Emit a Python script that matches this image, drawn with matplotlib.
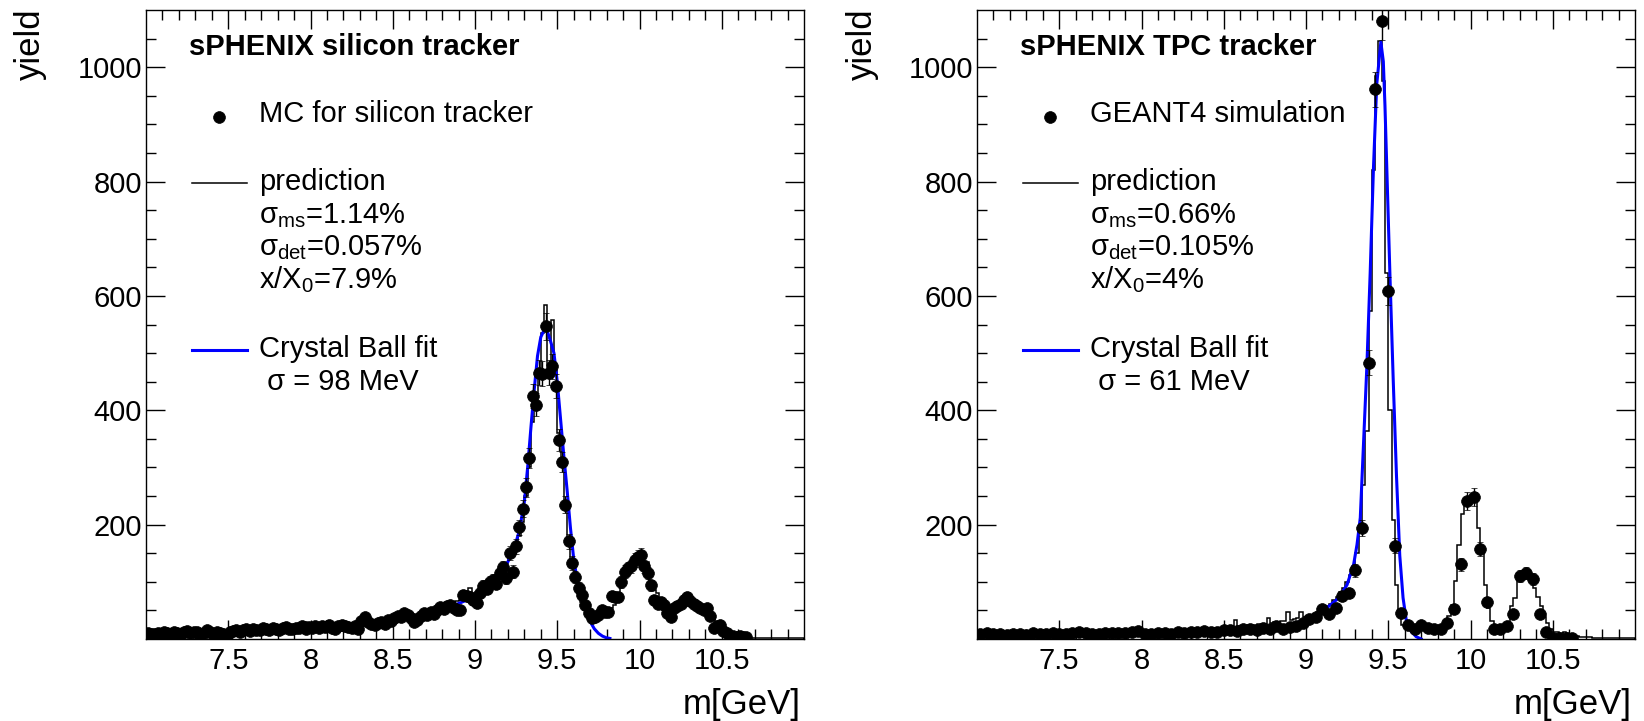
import numpy as np
import matplotlib.pyplot as plt
from matplotlib.lines import Line2D

plt.rcParams['font.family'] = ['Liberation Sans', 'DejaVu Sans']
plt.rcParams['mathtext.fontset'] = 'custom'
plt.rcParams['mathtext.rm'] = 'Liberation Sans'
plt.rcParams['mathtext.it'] = 'Liberation Sans:italic'

W, H = 1644, 721

# silicon tracker: MC points in 0.02 GeV bins, first centre 7.01
si_m0, si_dm = 7.01, 0.02
si_data = [10, 9, 8, 10, 9, 12, 11, 9, 12, 11, 8, 12, 14, 10, 13, 12, 9, 11, 15, 12, 9, 13, 11, 8, 6,
           12, 14, 16, 13, 15, 17, 14, 18, 16, 15, 19, 17, 16, 20, 18, 16, 19, 21, 18, 17, 20, 19, 22, 18, 21,
           20, 22, 19, 23, 21, 24, 20, 18, 22, 25, 23, 21, 19, 22, 18,
           32, 38, 30, 26, 24, 28, 30, 27, 33, 31, 36, 40, 38, 45, 42, 36, 30, 33, 40, 45, 42, 48, 44, 50, 56,
           52, 58, 59, 55, 51,
           51, 77, 75, 74, 68, 63, 80, 93, 88, 100, 103, 97, 115, 126, 106, 150, 118, 162, 195, 228,
           265, 316, 425, 410, 466, 464, 547, 466, 477, 442, 348, 309, 235, 171, 133, 108, 90, 77, 59, 45,
           36, 39, 42, 51, 48, 48, 75, 73, 73, 100, 118, 124, 127, 138, 144, 147, 127, 115, 94, 68,
           62, 65, 59, 45, 39, 54, 58, 62, 68, 73, 66, 62, 58, 54, 50, 54, 40, 19, 22, 25, 14, 10, 6, 5,
           4, 5, 4, 3]
# prediction histogram, 0.02 GeV bins from 7.0 to 11.0
si_pred = [10, 10, 9, 10, 11, 11, 10, 11, 12, 11, 10, 11, 19, 11, 12, 12, 11, 12, 13, 12, 11, 12, 12, 11, 12,
           13, 14, 14, 15, 15, 16, 15, 17, 16, 17, 18, 17, 18, 19, 18, 19, 19, 20, 19, 20, 20, 21, 21, 30, 21,
           21, 22, 22, 23, 22, 32, 23, 22, 23, 24, 23, 24, 23, 24, 25,
           27, 30, 30, 29, 30, 31, 32, 32, 34, 35, 36, 38, 38, 40, 40, 41, 42, 44, 45, 46, 48, 50, 51, 53, 55,
           57, 60, 62, 64, 66,
           68, 72, 75, 90, 78, 82, 86, 90, 95, 100, 106, 112, 118, 125, 133, 142, 152, 165, 180, 205,
           250, 300, 380, 430, 470, 535, 584, 480, 558, 470, 360, 300, 230, 170, 130, 100, 80, 65, 52, 42,
           38, 36, 40, 44, 48, 50, 55, 60, 70, 95, 110, 118, 125, 132, 140, 142, 135, 135, 100, 85,
           80, 70, 60, 50, 48, 55, 62, 64, 66, 68, 70, 66, 60, 55, 52, 50, 48, 40, 30, 22, 16, 12, 8, 6, 4,
           3, 3, 2, 2, 2,
           2, 1, 1, 1, 1, 1, 1, 1, 1, 1, 1, 1, 1, 1, 1]
si_fit_m = [8.55, 8.60, 8.65, 8.70, 8.75, 8.80, 8.85, 8.90, 8.95, 9.00, 9.05, 9.10, 9.15, 9.20, 9.24,
            9.27, 9.30, 9.32, 9.34, 9.36, 9.38, 9.40, 9.42, 9.44, 9.46, 9.48, 9.50, 9.52, 9.54, 9.56,
            9.58, 9.60, 9.62, 9.645, 9.665, 9.685, 9.705, 9.725, 9.75, 9.775, 9.80, 9.82]
si_fit_y = [33, 35, 38, 42, 46, 51, 56, 62, 68, 76, 86, 98, 113, 135, 160,
            190, 240, 300, 370, 436, 495, 528, 540, 538, 520, 500, 450, 385, 320, 260,
            195, 140, 105, 80, 60, 42, 28, 18, 10, 5, 2, 1]

# TPC tracker: GEANT4 points in 0.04 GeV bins, first centre 7.02
tpc_m0, tpc_dm = 7.02, 0.04
tpc_data = [8, 10, 9, 8, 7, 9, 8, 7, 10, 8, 9, 10, 8, 9, 11, 13, 10, 9, 8, 10, 11, 10, 11, 12, 14,
            9, 8, 10, 11, 9, 12, 11, 13, 12, 14, 13, 12, 15, 16, 14, 17, 18, 16, 20, 17, 22, 18, 21, 22, 28,
            35, 39, 52, 43, 54, 76, 80, 120, 194, 483, 961, 1081, 609, 163, 45, 24, 17, 24, 19, 17, 17, 28,
            52, 131, 241,
            249, 157, 65, 17, 17, 23, 43, 111, 115, 105, 43, 13, 2, 2, 2, 2]
tpc_pred = [10, 10, 9, 10, 9, 9, 10, 9, 9, 10, 9, 10, 9, 10, 10, 9, 10, 10, 9, 10, 10, 10, 10, 11, 10,
            10, 11, 10, 11, 11, 11, 11, 12, 11, 12, 11, 12, 12, 12, 12, 13, 12, 13, 13, 13, 13, 14, 13, 14, 14,
            14, 14, 15, 14, 15, 15, 15, 16, 15, 16, 16, 16, 17, 16, 17, 17, 18, 17, 18, 18, 18, 19, 19, 19, 20,
            20, 21, 22, 34, 22, 23, 23, 24, 25, 25, 26, 27, 27, 36, 28, 29, 30, 31, 32, 48, 33, 35, 36, 48, 38,
            40, 42, 44, 47, 50, 53, 57, 62, 68, 74, 82, 90, 100, 112, 128, 150, 200, 270, 363, 573, 820, 985,
            1045, 975, 640,
            400, 208, 94, 45, 25, 20, 18, 17, 18, 20, 22, 20, 18, 17, 18, 20, 22, 28, 40, 60, 102, 164, 219,
            241, 241,
            250, 256, 194, 157, 94, 54, 32, 21, 18, 18, 20, 30, 57, 72, 116, 118, 120, 120, 110, 90, 74, 57,
            39, 28, 17,
            13, 13, 10, 12, 10, 8, 6, 5, 4, 4, 3, 3, 2, 2, 2, 2, 2, 1, 1, 1, 1, 1, 1, 1, 1]
tpc_fit_m = [8.75, 8.80, 8.85, 8.90, 8.95, 9.00, 9.05, 9.10, 9.15, 9.20, 9.25, 9.29, 9.31, 9.33, 9.35,
             9.37, 9.39, 9.41, 9.43, 9.455, 9.47, 9.48, 9.495, 9.51, 9.53, 9.55, 9.57, 9.59, 9.61, 9.64,
             9.67, 9.70]
tpc_fit_y = [18, 20, 22, 25, 29, 34, 40, 48, 60, 72, 95, 131, 165, 212, 344,
             477, 639, 823, 970, 1044, 1010, 933, 786, 639, 455, 286, 146, 72, 32, 13,
             4, 0]

panels = [
    dict(data=si_data, m0=si_m0, dm=si_dm, pred=si_pred, fm=si_fit_m, fy=si_fit_y,
         title='sPHENIX silicon tracker', label='MC for silicon tracker',
         lines=['prediction', r'σ$_{\rm ms}$=1.14%', r'σ$_{\rm det}$=0.057%', r'x/X$_{\rm 0}$=7.9%'],
         sig=' σ = 98 MeV', x0=146, ylab=30),
    dict(data=tpc_data, m0=tpc_m0, dm=tpc_dm, pred=tpc_pred, fm=tpc_fit_m, fy=tpc_fit_y,
         title='sPHENIX TPC tracker', label='GEANT4 simulation',
         lines=['prediction', r'σ$_{\rm ms}$=0.66%', r'σ$_{\rm det}$=0.105%', r'x/X$_{\rm 0}$=4%'],
         sig=' σ = 61 MeV', x0=977, ylab=862),
]

fig = plt.figure(figsize=(W / 100, H / 100), dpi=100)


def fx(px):
    return px / W


def fy(py):
    return 1 - py / H


for p in panels:
    ax = fig.add_axes([fx(p['x0']), fy(639), 658 / W, 629 / H])
    edges = 7.0 + 0.02 * np.arange(len(p['pred']) + 1)
    ax.stairs(p['pred'], edges, color='black', lw=1.1)
    ax.plot(p['fm'], p['fy'], color='#0000ff', lw=2.2)
    v = np.array(p['data'], dtype=float)
    m = p['m0'] + p['dm'] * np.arange(len(v))
    ax.errorbar(m, v, yerr=np.sqrt(v), fmt='o', color='black', ms=8.5, mew=0.5,
                elinewidth=1, capsize=2, capthick=1)
    ax.set_xlim(7.0, 11.0)
    ax.set_ylim(0, 1100)
    ax.set_xticks([7.5, 8, 8.5, 9, 9.5, 10, 10.5])
    ax.set_xticklabels(['7.5', '8', '8.5', '9', '9.5', '10', '10.5'])
    ax.set_xticks(np.arange(7.1, 11.0, 0.1), minor=True)
    ax.set_yticks([200, 400, 600, 800, 1000])
    ax.set_yticks(np.arange(50, 1100, 50), minor=True)
    ax.tick_params(which='both', direction='in', top=True, right=True, labelsize=21, width=1)
    ax.tick_params(which='major', length=14)
    ax.tick_params(which='minor', length=7)
    ax.tick_params(axis='x', which='major', pad=6)
    ax.tick_params(axis='y', which='major', pad=3)
    for s in ax.spines.values():
        s.set_linewidth(1.0)

    x0 = p['x0']
    fig.text(fx(x0 + 43), fy(55), p['title'], fontsize=21, fontweight='bold', va='baseline')
    fig.add_artist(Line2D([fx(x0 + 73)], [fy(117)], marker='o', ms=8.5, mew=0.5, color='black',
                          transform=fig.transFigure))
    fig.text(fx(x0 + 113), fy(122), p['label'], fontsize=21, va='baseline')
    fig.add_artist(Line2D([fx(x0 + 46), fx(x0 + 101)], [fy(183), fy(183)], color='black', lw=1.1,
                          transform=fig.transFigure))
    for txt, yb in zip(p['lines'], [190, 223, 255, 288]):
        fig.text(fx(x0 + 113), fy(yb), txt, fontsize=21, va='baseline')
    fig.add_artist(Line2D([fx(x0 + 46), fx(x0 + 101)], [fy(350), fy(350)], color='#0000ff', lw=2.2,
                          transform=fig.transFigure))
    fig.text(fx(x0 + 113), fy(357), 'Crystal Ball fit', fontsize=21, va='baseline')
    fig.text(fx(x0 + 113), fy(390), p['sig'], fontsize=21, va='baseline')

    fig.text(fx(p['ylab']), fy(8), 'yield', fontsize=25, rotation=90, ha='center', va='top')
    fig.text(fx(x0 + 655), fy(714), 'm[GeV]', fontsize=25, ha='right', va='baseline')

fig.savefig('out.png', dpi=100)
